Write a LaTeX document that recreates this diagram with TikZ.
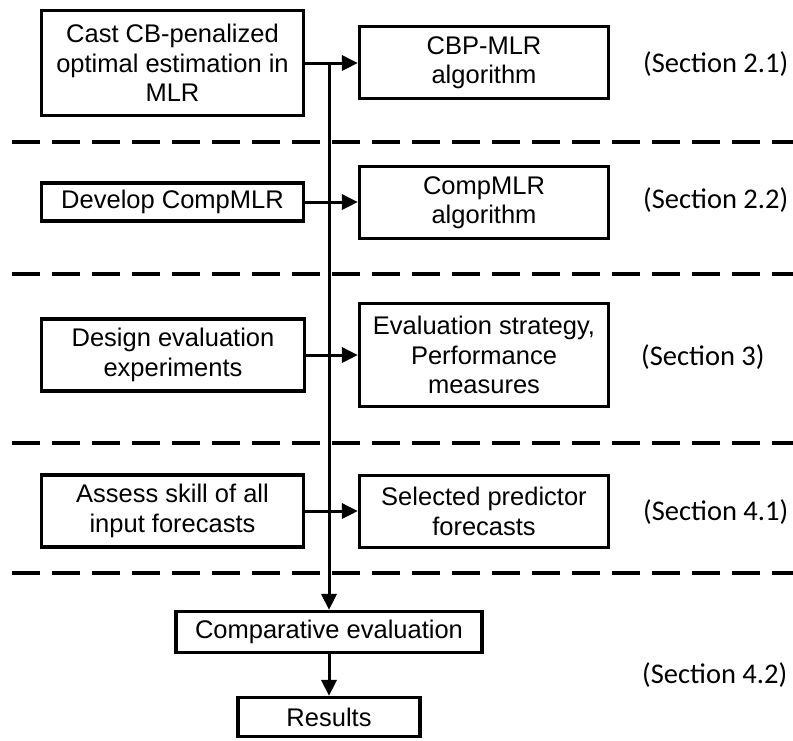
\documentclass[tikz,border=0pt]{standalone}
\usepackage{fontspec}
\setmainfont{Liberation Sans}
\newfontfamily\secfont{Carlito}
\usetikzlibrary{arrows.meta}
\begin{document}
\begin{tikzpicture}[x=1pt,y=-1pt,
  box/.style={draw,line width=3.2pt,align=center,inner sep=0pt,
    font=\fontsize{25.5}{29.5}\selectfont},
  arr/.style={line width=3pt,-{Triangle[length=16pt,width=15pt]}},
  sep/.style={line width=4pt,dash pattern=on 28pt off 12pt},
  sec/.style={anchor=west,inner sep=0pt,font=\secfont\fontsize{28.5}{32}\selectfont}]
\useasboundingbox (0,0) rectangle (793,740);
% left boxes
\node[box,minimum width=262pt,minimum height=105pt] (B1) at (172.5,63) {Cast CB-penalized\\optimal estimation in\\MLR};
\node[box,minimum width=262pt,minimum height=38pt] (B2) at (172.5,202) {Develop CompMLR};
\node[box,minimum width=263pt,minimum height=72pt] (B3) at (173,355) {Design evaluation\\experiments};
\node[box,minimum width=262pt,minimum height=72pt] (B4) at (172.5,511) {Assess skill of all\\input forecasts};
% right boxes
\node[box,minimum width=249pt,minimum height=72pt] (R1) at (484,62.5) {CBP-MLR\\algorithm};
\node[box,minimum width=249pt,minimum height=72pt] (R2) at (484,202.5) {CompMLR\\algorithm};
\node[box,minimum width=249pt,minimum height=103pt] (R3) at (484,355) {Evaluation strategy,\\Performance\\measures};
\node[box,minimum width=249pt,minimum height=72pt] (R4) at (484,511.5) {Selected predictor\\forecasts};
% bottom boxes
\node[box,minimum width=306pt,minimum height=41pt] (CE) at (329,632) {Comparative evaluation};
\node[box,minimum width=182pt,minimum height=39pt] (RS) at (329,717) {Results};
% section labels
\node[sec] (S1) at (643,64) {(Section 2.1)};
\node[sec] (S2) at (643,200) {(Section 2.2)};
\node[sec] (S3) at (641,357) {(Section 3)};
\node[sec] (S4) at (643,512) {(Section 4.1)};
\node[sec] (S5) at (642,675) {(Section 4.2)};
% separators
\coordinate (L1) at (12,142); \coordinate (E1) at (793,142);
\coordinate (L2) at (12,274); \coordinate (E2) at (793,274);
\coordinate (L3) at (12,443); \coordinate (E3) at (793,443);
\coordinate (L4) at (12,573); \coordinate (E4) at (793,573);
\draw[sep] (L1) -- (E1);
\draw[sep] (L2) -- (E2);
\draw[sep] (L3) -- (E3);
\draw[sep] (L4) -- (E4);
% connectors
\draw[arr] (B1.east) -- (B1.east -| R1.west);
\draw[arr] (B2.east) -- (B2.east -| R2.west);
\draw[arr] (B3.east) -- (B3.east -| R3.west);
\draw[arr] (B4.east) -- (B4.east -| R4.west);
\coordinate (V) at (329,63);
\draw[arr] (V) -- (V |- CE.north);
\draw[arr] (CE.south) -- (RS.north);
\end{tikzpicture}
\end{document}
